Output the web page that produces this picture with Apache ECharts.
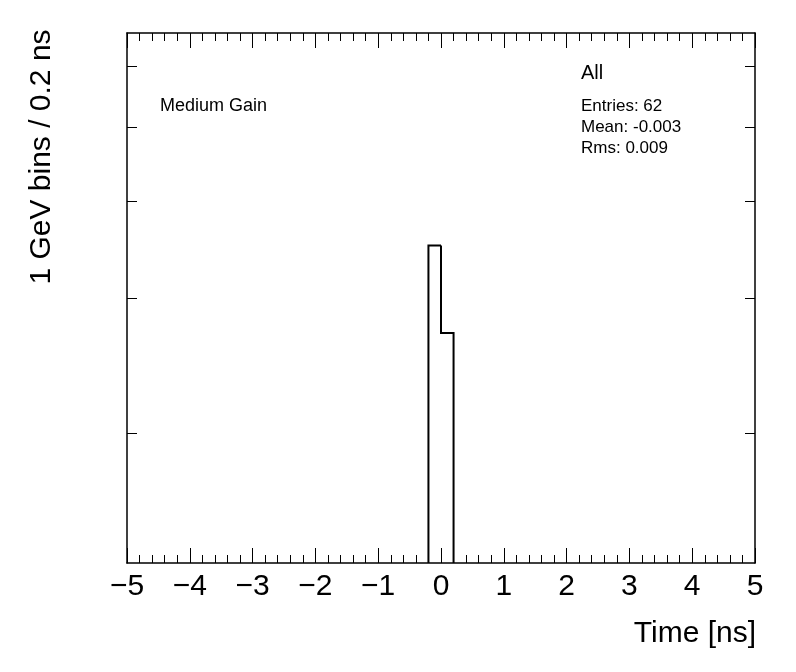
<!DOCTYPE html>
<html>
<head>
<meta charset="utf-8">
<script src="https://cdn.jsdelivr.net/npm/echarts@6/dist/echarts.min.js"></script>
<style>
html,body{margin:0;padding:0;background:#fff;}
#c{width:796px;height:672px;}
</style>
</head>
<body>
<div id="c"></div>
<script>
// ---- data ----
const binLow = [-0.2, 0.0];
const binHigh = [0.0, 0.2];
const binCounts = [3.51, 2.70];
const xTickValues = [-5, -4, -3, -2, -1, 0, 1, 2, 3, 4, 5];
const yTickValues = [2, 3, 4, 5, 6];
const xRange = [-5, 5];
const yRange = [1.356, 6.63];
const statsLines = ['Entries: 62', 'Mean: -0.003', 'Rms: 0.009'];
const histTitle = 'All';
const gainLabel = 'Medium Gain';
const xTitle = 'Time [ns]';
const yTitle = '1 GeV bins / 0.2 ns';

const FONT = '"Liberation Sans", Arial, Helvetica, sans-serif';
const chart = echarts.init(document.getElementById('c'), null, {renderer: 'canvas'});

const histData = binLow.map((lo, i) => [lo, binHigh[i], binCounts[i]]);

const commonX = {
  type: 'value', min: xRange[0], max: xRange[1], interval: 1,
  splitLine: {show: false},
  axisLine: {show: true, onZero: false, lineStyle: {color: '#000', width: 1.5}},
  axisTick: {show: true, inside: true, length: 15, lineStyle: {color: '#000', width: 1}},
  minorTick: {show: true, splitNumber: 5, length: 8, lineStyle: {color: '#000', width: 1}},
  minorSplitLine: {show: false}
};
const commonY = {
  type: 'log', logBase: 10, min: yRange[0], max: yRange[1],
  splitLine: {show: false},
  axisLine: {show: true, onZero: false, lineStyle: {color: '#000', width: 1.5}},
  axisTick: {show: true, inside: true, length: 10, customValues: yTickValues, lineStyle: {color: '#000', width: 1}},
  axisLabel: {show: false},
  minorTick: {show: false}
};

const option = {
  backgroundColor: '#fff',
  animation: false,
  grid: {left: 127, right: 41, top: 33, bottom: 109, containLabel: false},
  xAxis: [
    Object.assign({}, commonX, {
      position: 'bottom',
      axisLabel: {
        show: true, margin: 9, fontSize: 30, color: '#000', fontFamily: FONT,
        customValues: xTickValues,
        formatter: v => String(v).replace('-', '\u2212')
      }
    }),
    Object.assign({}, commonX, {position: 'top', axisLabel: {show: false}})
  ],
  yAxis: [
    Object.assign({}, commonY, {position: 'left'}),
    Object.assign({}, commonY, {position: 'right'})
  ],
  series: [{
    type: 'custom',
    xAxisIndex: 0, yAxisIndex: 0,
    clip: true,
    data: histData,
    renderItem: function (params, api) {
      const i = params.dataIndex;
      const lo = api.value(0), hi = api.value(1), v = api.value(2);
      const prev = i > 0 ? binCounts[i - 1] : yRange[0];
      const pts = [api.coord([lo, prev]), api.coord([lo, v]), api.coord([hi, v])];
      if (i === binCounts.length - 1) pts.push(api.coord([hi, yRange[0]]));
      return {
        type: 'polyline',
        shape: {points: pts},
        style: {stroke: '#000', lineWidth: 2, fill: null}
      };
    }
  }],
  graphic: [
    {type: 'text', left: 160, top: 97, style: {text: gainLabel, fontSize: 18, fontFamily: FONT, fill: '#000'}},
    {type: 'text', left: 581, top: 63, style: {text: histTitle, fontSize: 20, fontFamily: FONT, fill: '#000'}},
    {type: 'text', left: 581, top: 96, style: {text: statsLines.join('\n'), fontSize: 17, lineHeight: 21, fontFamily: FONT, fill: '#000'}},
    {type: 'text', right: 40, top: 619, style: {text: xTitle, fontSize: 30, fontFamily: FONT, fill: '#000'}},
    {type: 'text', x: 42, y: 157, rotation: Math.PI / 2,
      style: {text: yTitle, fontSize: 30, fontFamily: FONT, fill: '#000', align: 'center', verticalAlign: 'middle'}}
  ]
};
chart.setOption(option);
</script>
</body>
</html>
